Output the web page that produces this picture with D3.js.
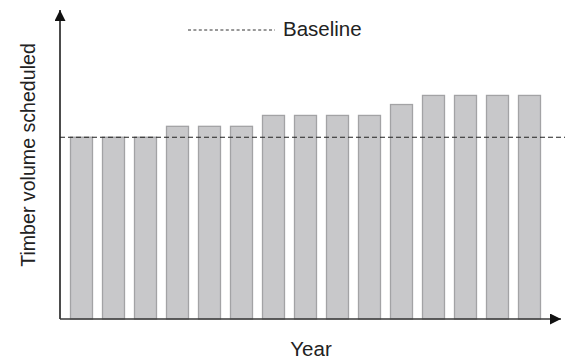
<!DOCTYPE html>
<html>
<head>
<meta charset="utf-8">
<script src="https://cdn.jsdelivr.net/npm/d3@7"></script>
<style>
  html, body { margin: 0; padding: 0; background: #fff; }
  svg { display: block; font-family: "Liberation Sans", Arial, Helvetica, sans-serif; }
</style>
</head>
<body>
<svg id="chart" width="565" height="360"></svg>
<script>
// Scheduled timber volume per year, relative to a baseline of 100
const years = d3.range(1, 16);
const volumes = [100, 100, 100, 106, 106, 106, 112, 112, 112, 112, 118, 123, 123, 123, 123];
const baselineValue = 100;
const legendLabel = "Baseline";
const xLabel = "Year";
const yLabel = "Timber volume scheduled";

const svg = d3.select("#chart");
const W = 565;
const x0 = 60, x1 = 561, yBottom = 319, yTop = 10;

// 15 bars, 22px wide on a 32px step
const x = d3.scaleBand()
  .domain(years)
  .range([x0, 551])
  .paddingInner(10 / 32)
  .paddingOuter(10.5 / 32);

const y = d3.scaleLinear().domain([0, 170]).range([yBottom, yTop]);

// arrowhead for both axes
svg.append("defs").append("marker")
  .attr("id", "arrow")
  .attr("viewBox", "0 0 10 10")
  .attr("refX", 10).attr("refY", 5)
  .attr("markerWidth", 11).attr("markerHeight", 11)
  .attr("markerUnits", "userSpaceOnUse")
  .attr("orient", "auto")
  .append("path")
  .attr("d", "M0,0 L10,5 L0,10 Z")
  .attr("fill", "#111");

// bars
svg.append("g").selectAll("rect")
  .data(volumes)
  .join("rect")
  .attr("x", (d, i) => x(years[i]))
  .attr("y", d => y(d))
  .attr("width", x.bandwidth())
  .attr("height", d => y(0) - y(d))
  .attr("fill", "#c8c8ca")
  .attr("stroke", "#a3a3a5")
  .attr("stroke-width", 1.3);

// axes
svg.append("line")
  .attr("x1", x0).attr("y1", yBottom)
  .attr("x2", x0).attr("y2", yTop)
  .attr("stroke", "#111").attr("stroke-width", 1.5)
  .attr("marker-end", "url(#arrow)");
svg.append("line")
  .attr("x1", x0).attr("y1", yBottom)
  .attr("x2", x1).attr("y2", yBottom)
  .attr("stroke", "#3a3a3a").attr("stroke-width", 1.7)
  .attr("marker-end", "url(#arrow)");

// baseline reference
svg.append("line")
  .attr("x1", x0).attr("x2", W)
  .attr("y1", y(baselineValue)).attr("y2", y(baselineValue))
  .attr("stroke", "#222").attr("stroke-width", 1.2)
  .attr("stroke-dasharray", "5,3");

// legend
svg.append("line")
  .attr("x1", 188).attr("x2", 275)
  .attr("y1", 30).attr("y2", 30)
  .attr("stroke", "#333").attr("stroke-width", 1)
  .attr("stroke-dasharray", "3,2.4");
svg.append("text")
  .attr("x", 283).attr("y", 36)
  .attr("font-size", 20.5)
  .attr("fill", "#222")
  .text(legendLabel);

// axis titles
svg.append("text")
  .attr("x", 311).attr("y", 356)
  .attr("text-anchor", "middle")
  .attr("font-size", 20.5)
  .attr("fill", "#222")
  .text(xLabel);
svg.append("text")
  .attr("transform", "translate(35,155) rotate(-90)")
  .attr("text-anchor", "middle")
  .attr("font-size", 19.6)
  .attr("fill", "#222")
  .text(yLabel);
</script>
</body>
</html>
